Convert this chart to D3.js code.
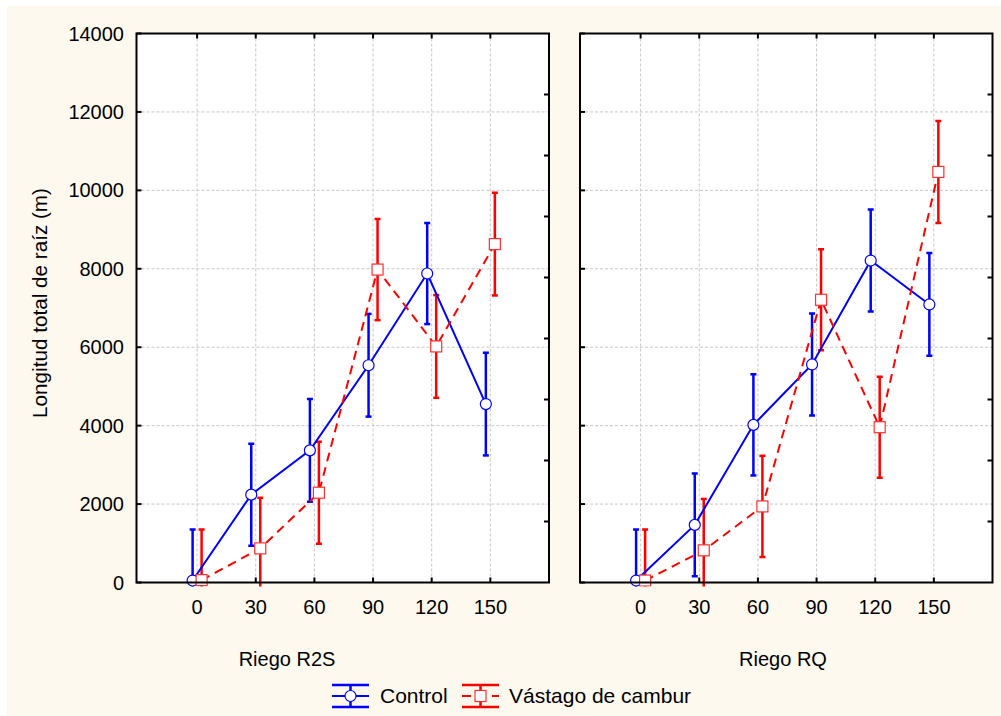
<!DOCTYPE html>
<html>
<head>
<meta charset="utf-8">
<script src="https://cdn.jsdelivr.net/npm/d3@7"></script>
<style>
  body { margin: 0; background: #fff; }
  text { font-family: "Liberation Sans", Arial, sans-serif; fill: #000; }
</style>
</head>
<body>
<div id="chart"></div>
<script>
// categories (days) and series
const riegoDias = [0, 30, 60, 90, 120, 150];
const yTicks = [0, 2000, 4000, 6000, 8000, 10000, 12000, 14000];
const panelTitles = ["Riego R2S", "Riego RQ"];
const seriesNames = ["Control", "Vástago de cambur"];

// Riego R2S
const r2sControl = [50, 2240, 3370, 5540, 7880, 4550];
const r2sControlErr = [1300, 1300, 1310, 1310, 1290, 1310];
const r2sVastago = [60, 870, 2290, 7980, 6020, 8630];
const r2sVastagoErr = [1290, 1290, 1300, 1290, 1310, 1310];

// Riego RQ
const rqControl = [50, 1470, 4020, 5560, 8210, 7090];
const rqControlErr = [1300, 1310, 1290, 1300, 1300, 1310];
const rqVastago = [50, 820, 1940, 7210, 3960, 10470];
const rqVastagoErr = [1300, 1310, 1290, 1290, 1290, 1300];

const W = 1001, H = 716;
const svg = d3.select("#chart").append("svg")
  .attr("width", W).attr("height", H);

svg.append("rect").attr("width", W).attr("height", H).attr("fill", "#fff");
svg.append("rect").attr("x", 7).attr("y", 6).attr("width", W - 7).attr("height", H - 6)
  .attr("fill", "#fdf9ef");

const plotTop = 33.5, plotBottom = 582.5;
const panels = [
  {left: 136.5, right: 549, title: panelTitles[0], titleX: 287,
   series: [{vals: r2sControl, err: r2sControlErr}, {vals: r2sVastago, err: r2sVastagoErr}]},
  {left: 580, right: 992.5, title: panelTitles[1], titleX: 783,
   series: [{vals: rqControl, err: rqControlErr}, {vals: rqVastago, err: rqVastagoErr}]}
];

const styles = [
  {color: "#0000ff", dash: null, off: -4.5, marker: "circle"},
  {color: "#ff0000", dash: "9,6", off: 4.5, marker: "square"}
];

const y = d3.scaleLinear().domain([0, 14000]).range([plotBottom, plotTop]);
const tickLen = 5;

panels.forEach((p, pi) => {
  const x = d3.scaleLinear().domain([-31, 180]).range([p.left, p.right]);
  const g = svg.append("g");
  const w = p.right - p.left;

  g.append("rect").attr("x", p.left).attr("y", plotTop)
    .attr("width", w).attr("height", plotBottom - plotTop).attr("fill", "#fff");

  // grid
  g.selectAll(".vg").data(riegoDias).join("line")
    .attr("x1", d => x(d)).attr("x2", d => x(d))
    .attr("y1", plotTop).attr("y2", plotBottom)
    .attr("stroke", "#c8c8c8").attr("stroke-dasharray", "3,2");
  g.selectAll(".hg").data(yTicks.slice(1, -1)).join("line")
    .attr("x1", p.left).attr("x2", p.right)
    .attr("y1", d => y(d)).attr("y2", d => y(d))
    .attr("stroke", "#c8c8c8").attr("stroke-dasharray", "3,2");

  // inward ticks
  const tk = g.append("g").attr("stroke", "#000").attr("stroke-width", 2);
  riegoDias.forEach(d => {
    tk.append("line").attr("x1", x(d)).attr("x2", x(d)).attr("y1", plotBottom).attr("y2", plotBottom - tickLen);
    tk.append("line").attr("x1", x(d)).attr("x2", x(d)).attr("y1", plotTop).attr("y2", plotTop + tickLen);
  });
  yTicks.forEach(d => {
    tk.append("line").attr("x1", p.left).attr("x2", p.left + tickLen).attr("y1", y(d)).attr("y2", y(d));
  });
  d3.range(1, 9).forEach(i => {
    const yy = plotBottom - i * (plotBottom - plotTop) / 9;
    tk.append("line").attr("x1", p.right).attr("x2", p.right - tickLen).attr("y1", yy).attr("y2", yy);
  });

  // x tick labels
  g.selectAll(".xl").data(riegoDias).join("text")
    .attr("x", d => x(d)).attr("y", 614)
    .attr("text-anchor", "middle").attr("font-size", 20).text(d => d);

  g.append("text").attr("x", p.titleX).attr("y", 666)
    .attr("text-anchor", "middle").attr("font-size", 20).text(p.title);

  // data
  const clipId = "clip" + pi;
  svg.append("clipPath").attr("id", clipId).append("rect")
    .attr("x", p.left).attr("y", plotTop).attr("width", w).attr("height", plotBottom - plotTop + 4);
  const dg = g.append("g").attr("clip-path", `url(#${clipId})`);

  p.series.forEach((s, si) => {
    const st = styles[si];
    const px = i => x(riegoDias[i]) + st.off;
    const eb = dg.append("g").attr("stroke", st.color).attr("stroke-width", 2.5);
    s.vals.forEach((v, i) => {
      const lo = y(v - s.err[i]), hi = y(v + s.err[i]);
      eb.append("line").attr("x1", px(i)).attr("x2", px(i)).attr("y1", lo).attr("y2", hi);
      eb.append("line").attr("x1", px(i) - 3).attr("x2", px(i) + 3).attr("y1", lo).attr("y2", lo);
      eb.append("line").attr("x1", px(i) - 3).attr("x2", px(i) + 3).attr("y1", hi).attr("y2", hi);
    });
  });
  p.series.forEach((s, si) => {
    const st = styles[si];
    const line = d3.line().x((d, i) => x(riegoDias[i]) + st.off).y(d => y(d));
    dg.append("path").datum(s.vals).attr("d", line)
      .attr("fill", "none").attr("stroke", st.color).attr("stroke-width", 2)
      .attr("stroke-dasharray", st.dash);
  });
  p.series.forEach((s, si) => {
    const st = styles[si];
    s.vals.forEach((v, i) => {
      const cx = x(riegoDias[i]) + st.off, cy = y(v);
      if (st.marker === "circle") {
        dg.append("circle").attr("cx", cx).attr("cy", cy).attr("r", 5.5)
          .attr("fill", "#fff").attr("stroke", st.color).attr("stroke-width", 1.2);
      } else {
        dg.append("rect").attr("x", cx - 5.5).attr("y", cy - 5.5).attr("width", 11).attr("height", 11)
          .attr("fill", "#fff").attr("stroke", "#ff3030").attr("stroke-width", 1.2);
      }
    });
  });

  // frame
  g.append("rect").attr("x", p.left).attr("y", plotTop)
    .attr("width", w).attr("height", plotBottom - plotTop)
    .attr("fill", "none").attr("stroke", "#000").attr("stroke-width", 2);
});

// y tick labels (left panel only)
svg.selectAll(".yl").data(yTicks).join("text")
  .attr("x", 124).attr("y", d => y(d) + 7)
  .attr("text-anchor", "end").attr("font-size", 20).text(d => d);

svg.append("text").attr("transform", "translate(47,303) rotate(-90)")
  .attr("text-anchor", "middle").attr("font-size", 20.7).text("Longitud total de raíz (m)");

// legend
const legend = [{x: 332, tx: 380}, {x: 462, tx: 509}];
legend.forEach((l, i) => {
  const st = styles[i];
  const lg = svg.append("g").attr("stroke", st.color);
  const cx = l.x + 18.5;
  lg.append("line").attr("x1", l.x).attr("x2", l.x + 37).attr("y1", 685).attr("y2", 685).attr("stroke-width", 2.5);
  lg.append("line").attr("x1", l.x).attr("x2", l.x + 37).attr("y1", 707).attr("y2", 707).attr("stroke-width", 2.5);
  lg.append("line").attr("x1", cx).attr("x2", cx).attr("y1", 685).attr("y2", 707).attr("stroke-width", 2.5);
  lg.append("line").attr("x1", l.x).attr("x2", l.x + 37).attr("y1", 696).attr("y2", 696)
    .attr("stroke-width", 2).attr("stroke-dasharray", st.dash ? "9,6" : null);
  if (st.marker === "circle") {
    lg.append("circle").attr("cx", cx).attr("cy", 696).attr("r", 5.5)
      .attr("fill", "#fff").attr("stroke-width", 1.2);
  } else {
    lg.append("rect").attr("x", cx - 5.5).attr("y", 690.5).attr("width", 11).attr("height", 11)
      .attr("fill", "#fff").attr("stroke", "#ff3030").attr("stroke-width", 1.2);
  }
  svg.append("text").attr("x", l.tx).attr("y", 703).attr("font-size", 21).text(seriesNames[i]);
});
</script>
</body>
</html>
